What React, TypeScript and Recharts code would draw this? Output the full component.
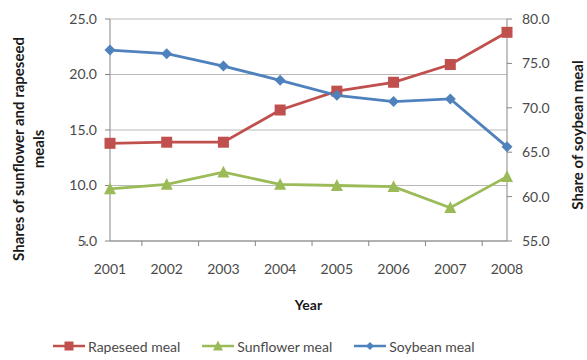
import {
  CartesianGrid,
  ComposedChart,
  Label,
  Legend,
  Line,
  XAxis,
  YAxis,
} from "recharts";

const years = ["2001", "2002", "2003", "2004", "2005", "2006", "2007", "2008"];
const rapeseed = [13.8, 13.9, 13.9, 16.8, 18.5, 19.3, 20.9, 23.8];
const sunflower = [9.7, 10.1, 11.2, 10.1, 10.0, 9.9, 8.0, 10.8];
const soybean = [76.5, 76.1, 74.7, 73.1, 71.4, 70.7, 71.0, 65.6];
const leftTicks = [5, 10, 15, 20, 25];
const rightTicks = [55, 60, 65, 70, 75, 80];

const data = years.map((year, i) => ({
  year,
  rapeseed: rapeseed[i],
  sunflower: sunflower[i],
  soybean: soybean[i],
}));

const RED = "#c0504d";
const GREEN = "#9bbb59";
const BLUE = "#4f81bd";
const AXIS = "#868686";
const GRID = "#b9b9b9";
const TEXT = "#4a4a4a";
const TITLE = "#1a1a1a";
const FONT = "Lato, 'Open Sans', sans-serif";

const TICK_SIZE = 5;
const TICK_MARGIN = 18;

function Square({ cx, cy, color, size = 10 }: any) {
  if (cx == null || cy == null) return null;
  return (
    <rect x={cx - size / 2} y={cy - size / 2} width={size} height={size} fill={color} />
  );
}

function Triangle({ cx, cy, color, size = 11 }: any) {
  if (cx == null || cy == null) return null;
  const h = size * 0.9;
  return (
    <polygon
      points={`${cx},${cy - h / 2 - 1} ${cx - size / 2},${cy + h / 2} ${cx + size / 2},${cy + h / 2}`}
      fill={color}
    />
  );
}

function Diamond({ cx, cy, color, size = 11 }: any) {
  if (cx == null || cy == null) return null;
  const r = size / 2;
  return (
    <polygon
      points={`${cx},${cy - r} ${cx + r},${cy} ${cx},${cy + r} ${cx - r},${cy}`}
      fill={color}
    />
  );
}

// year label plus tick marks on the category boundaries
function YearTick(props: any) {
  const { x, y, payload, index, visibleTicksCount, width } = props;
  const count = visibleTicksCount || years.length;
  const band = (width || 397) / count;
  const axisY = y - TICK_SIZE - TICK_MARGIN;
  return (
    <g>
      <line x1={x - band / 2} x2={x - band / 2} y1={axisY} y2={axisY + TICK_SIZE} stroke={AXIS} />
      {index === count - 1 && (
        <line x1={x + band / 2} x2={x + band / 2} y1={axisY} y2={axisY + TICK_SIZE} stroke={AXIS} />
      )}
      <text x={x} y={y} dy="0.71em" textAnchor="middle" fill={TEXT} fontSize={14} fontFamily={FONT}>
        {payload.value}
      </text>
    </g>
  );
}

function LeftTitle({ viewBox }: any) {
  const cx = viewBox.x + 24;
  const cy = viewBox.y + viewBox.height / 2 + 19;
  return (
    <text
      transform={`translate(${cx},${cy}) rotate(-90)`}
      textAnchor="middle"
      fill={TITLE}
      fontSize={15}
      fontWeight={700}
      fontFamily={FONT}
    >
      <tspan x={0} dy={0}>Shares of sunflower and rapeseed</tspan>
      <tspan x={0} dy={20}>meals</tspan>
    </text>
  );
}

function RightTitle({ viewBox }: any) {
  const cx = viewBox.x + 76;
  const cy = viewBox.y + viewBox.height / 2 + 5;
  return (
    <text
      transform={`translate(${cx},${cy}) rotate(-90)`}
      textAnchor="middle"
      fill={TITLE}
      fontSize={15}
      fontWeight={700}
      fontFamily={FONT}
    >
      Share of soybean meal
    </text>
  );
}

const legendItems = [
  { name: "Rapeseed meal", color: RED, Marker: Square, size: 9 },
  { name: "Sunflower meal", color: GREEN, Marker: Triangle, size: 10 },
  { name: "Soybean meal", color: BLUE, Marker: Diamond, size: 8 },
];

function LegendContent() {
  return (
    <div
      style={{
        display: "flex",
        height: 24,
        alignItems: "center",
        paddingLeft: 53,
        fontFamily: FONT,
        fontSize: 14,
        color: TEXT,
      }}
    >
      {legendItems.map(({ name, color, Marker, size }) => (
        <div key={name} style={{ display: "flex", alignItems: "center", marginRight: 22 }}>
          <svg width={32} height={14} style={{ marginRight: 3 }}>
            <line x1={0} x2={32} y1={7} y2={7} stroke={color} strokeWidth={2.5} />
            <Marker cx={16} cy={7} color={color} size={size} />
          </svg>
          <span>{name}</span>
        </div>
      ))}
    </div>
  );
}

export default function App() {
  return (
    <div style={{ position: "absolute", left: 0, top: 0, background: "#fff" }}>
      <ComposedChart
        width={587}
        height={360}
        data={data}
        margin={{ top: 19, right: 0, bottom: 2, left: 0 }}
      >
        <CartesianGrid vertical={false} stroke={GRID} yAxisId="left" />
        <XAxis
          dataKey="year"
          height={93}
          stroke={AXIS}
          tickLine={false}
          tickSize={TICK_SIZE}
          tickMargin={TICK_MARGIN}
          tick={<YearTick />}
        >
          <Label
            value="Year"
            position="insideTop"
            offset={59}
            fill={TITLE}
            fontSize={14}
            fontWeight={700}
            fontFamily={FONT}
          />
        </XAxis>
        <YAxis
          yAxisId="left"
          width={110}
          domain={[5, 25]}
          ticks={leftTicks}
          interval={0}
          stroke={AXIS}
          tickSize={TICK_SIZE}
          tickMargin={8}
          tickFormatter={(v: number) => v.toFixed(1)}
          tick={{ fill: TEXT, fontSize: 14, fontFamily: FONT }}
        >
          <Label content={<LeftTitle />} />
        </YAxis>
        <YAxis
          yAxisId="right"
          orientation="right"
          width={80}
          domain={[55, 80]}
          ticks={rightTicks}
          interval={0}
          stroke={AXIS}
          tickSize={TICK_SIZE}
          tickMargin={10}
          tickFormatter={(v: number) => v.toFixed(1)}
          tick={{ fill: TEXT, fontSize: 14, fontFamily: FONT }}
        >
          <Label content={<RightTitle />} />
        </YAxis>
        <Legend verticalAlign="bottom" content={<LegendContent />} />
        <Line
          yAxisId="left"
          dataKey="rapeseed"
          stroke={RED}
          strokeWidth={2.8}
          dot={(p: any) => <Square key={p.index} cx={p.cx} cy={p.cy} color={RED} size={11} />}
          activeDot={false}
          isAnimationActive={false}
        />
        <Line
          yAxisId="left"
          dataKey="sunflower"
          stroke={GREEN}
          strokeWidth={2.8}
          dot={(p: any) => <Triangle key={p.index} cx={p.cx} cy={p.cy} color={GREEN} size={12} />}
          activeDot={false}
          isAnimationActive={false}
        />
        <Line
          yAxisId="right"
          dataKey="soybean"
          stroke={BLUE}
          strokeWidth={2.8}
          dot={(p: any) => <Diamond key={p.index} cx={p.cx} cy={p.cy} color={BLUE} size={11} />}
          activeDot={false}
          isAnimationActive={false}
        />
      </ComposedChart>
    </div>
  );
}
